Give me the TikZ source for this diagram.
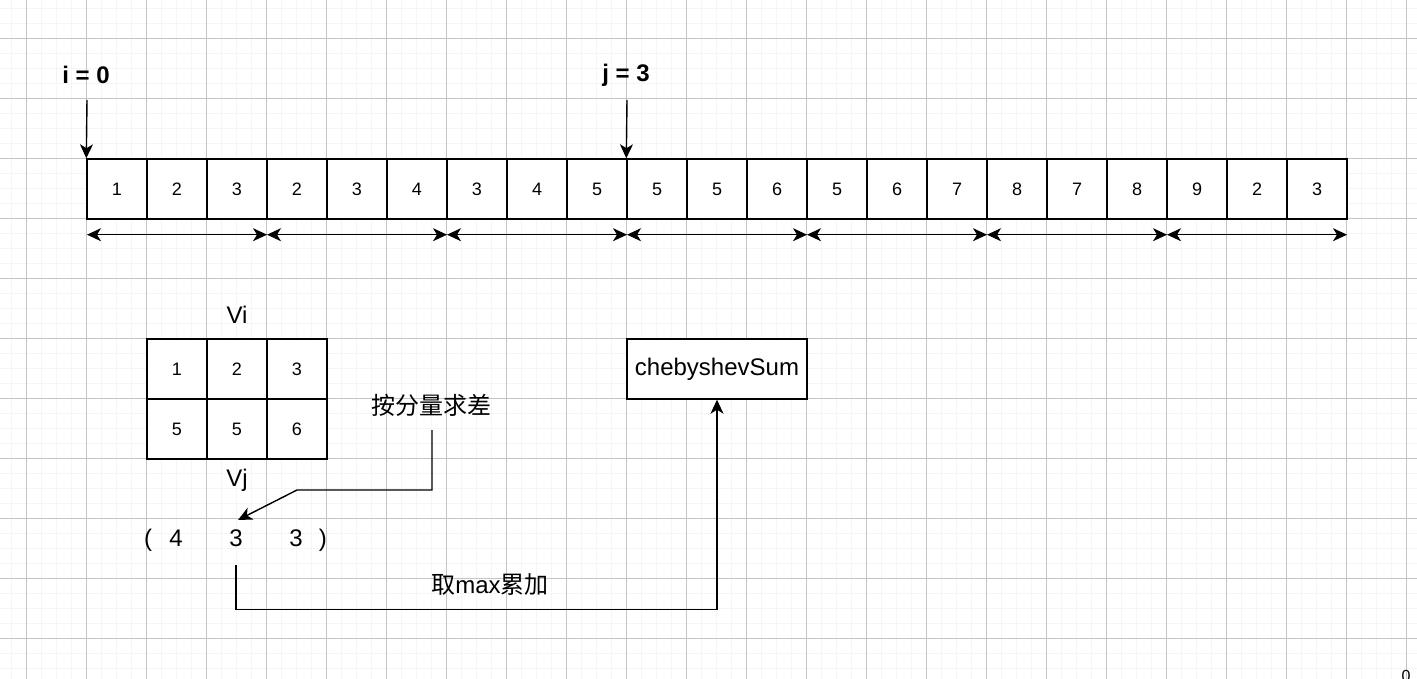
\documentclass[tikz,border=0pt]{standalone}
\usepackage{fontspec}
\setmainfont{Liberation Sans}
\newfontfamily\cjk{Noto Sans CJK SC}
\usetikzlibrary{arrows.meta}
\tikzset{
  minorgrid/.style={draw=black!4, line width=1.4pt},
  majorgrid/.style={draw=black!23, line width=0.9pt},
  cell/.style={draw=black, fill=white, line width=1.4pt, minimum width=60pt, minimum height=60pt, inner sep=0pt, font=\fontsize{18pt}{20pt}\selectfont},
  bigtxt/.style={inner sep=0pt, font=\fontsize{24pt}{28pt}\selectfont},
  boldtxt/.style={inner sep=0pt, font=\fontsize{24pt}{28pt}\selectfont\bfseries},
  headtip/.tip={Stealth[length=14pt,width=13pt,inset=4pt]},
  conn/.style={draw=black, line width=1.4pt, -headtip},
  dbl/.style={draw=black, line width=1.4pt, headtip-headtip},
  boxnode/.style={draw=black, fill=white, line width=1.4pt, minimum width=180pt, minimum height=60pt, inner sep=0pt, font=\fontsize{24pt}{28pt}\selectfont},
}
\begin{document}
\begin{tikzpicture}[x=1pt,y=-1pt]
\useasboundingbox (0,0) rectangle (1417,679);
\fill[white] (0,0) rectangle (1417,679);
% grid
\foreach \k in {0,...,94} { \draw[minorgrid] (11.7+15*\k,0) -- (11.7+15*\k,679); }
\foreach \k in {0,...,45} { \draw[minorgrid] (0,8.7+15*\k) -- (1417,8.7+15*\k); }
\foreach \k in {0,...,23} { \draw[majorgrid] (26.7+60*\k,0) -- (26.7+60*\k,679); }
\foreach \k in {0,...,10} { \draw[majorgrid] (0,38.7+60*\k) -- (1417,38.7+60*\k); }

% top row of cells
\foreach \v [count=\i from 0] in {1,2,3,2,3,4,3,4,5,5,5,6,5,6,7,8,7,8,9,2,3} {
  \node[cell] (c\i) at (117+60*\i,189) {\v};
}

% double arrows
\foreach \k in {0,...,7} { \coordinate (a\k) at (87+180*\k,234.7); }
\foreach \k [evaluate=\k as \n using int(\k+1)] in {0,...,6} { \draw[dbl] (a\k) -- (a\n); }

% i and j pointers
\node[boldtxt] (ilabel) at (86,75) {i = 0};
\coordinate (itop) at (87,100);
\draw[conn] (itop) -- (c0.north west);
\node[boldtxt] (jlabel) at (626,75) {j = 3};
\coordinate (jtop) at (627,100);
\draw[conn] (jtop) -- (c9.north west);

% matrix Vi / Vj
\node[cell] (m1) at (177,369) {1};
\node[cell] (m2) at (237,369) {2};
\node[cell] (m3) at (297,369) {3};
\node[cell] (m4) at (177,429) {5};
\node[cell] (m5) at (237,429) {5};
\node[cell] (m6) at (297,429) {6};
\node[bigtxt] (vi) at (237,315) {Vi};
\node[bigtxt] (vj) at (237,480) {Vj};

% tuple
\node[bigtxt] (tuple) at (235.5,540) {\makebox[0pt]{(}\hspace{28pt}\makebox[0pt]{4}\hspace{60pt}\makebox[0pt]{3}\hspace{60pt}\makebox[0pt]{3}\hspace{27pt}\makebox[0pt]{)}};

% difference label and connector
\node[bigtxt] (diff) at (431,405) {\cjk 按分量求差};
\coordinate (d0) at (432,430);
\coordinate (d1) at (432,490);
\coordinate (d2) at (297,490);
\coordinate (t2) at (238,520);
\draw[conn] (d0) -- (d1) -- (d2) -- (t2);

% chebyshevSum
\node[boxnode] (cheb) at (717,369) {chebyshevSum};
\coordinate (t2b) at (236,565);
\coordinate (b1) at (236,609.3);
\coordinate (b2) at (717,609.3);
\draw[conn] (t2b) -- (b1) -- (b2) -- (cheb.south);
\node[bigtxt] (maxlbl) at (490,585) {{\cjk 取}max{\cjk 累加}};

% page marker
\node[inner sep=0pt, anchor=base, font=\fontsize{16pt}{18pt}\selectfont] (pg) at (1406,681) {0};
\end{tikzpicture}
\end{document}
